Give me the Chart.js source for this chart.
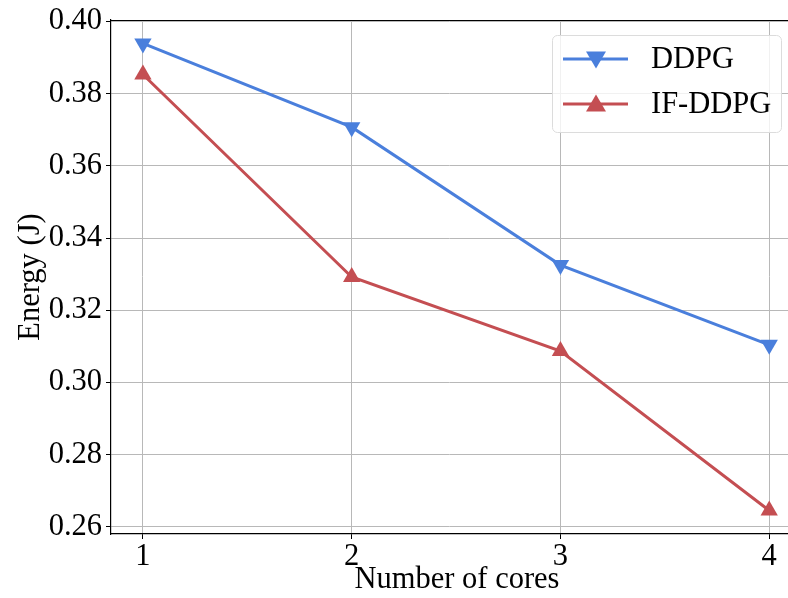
<!DOCTYPE html>
<html>
<head>
<meta charset="utf-8">
<script src="https://cdn.jsdelivr.net/npm/chart.js@4/dist/chart.umd.min.js"></script>
<style>
  html, body { margin: 0; padding: 0; background: #fff; }
  #wrap { width: 788px; height: 598px; }
</style>
</head>
<body>
<div id="wrap"><canvas id="c" width="788" height="598"></canvas></div>
<script>
// values
const cores = [1, 2, 3, 4];
const ddpg = [0.3939, 0.3707, 0.3325, 0.3104];
const ifDdpg = [0.3853, 0.3292, 0.3087, 0.2645];
const yTicks = [0.26, 0.28, 0.30, 0.32, 0.34, 0.36, 0.38, 0.40];

const FONT = 'Liberation Serif';
const FS = 30.5;
const BLUE = '#4a7fdc';
const RED = '#c44e52';
const GRID = '#b8b8b8';

Chart.defaults.font.family = FONT;
Chart.defaults.font.size = FS;
Chart.defaults.color = '#000';

// axis titles, top spine and legend drawn by hand, matplotlib style
const extras = {
  id: 'extras',
  afterDraw(chart) {
    const ctx = chart.ctx;
    const a = chart.chartArea;
    ctx.save();
    // top spine
    ctx.strokeStyle = '#000';
    ctx.lineWidth = 1.2;
    ctx.beginPath();
    ctx.moveTo(a.left, a.top + 0.5);
    ctx.lineTo(a.right, a.top + 0.5);
    ctx.stroke();

    // axis titles
    ctx.fillStyle = '#000';
    ctx.font = FS + 'px ' + FONT;
    ctx.textAlign = 'center';
    ctx.textBaseline = 'middle';
    ctx.fillText('Number of cores', 457, 580);
    ctx.save();
    ctx.translate(31, 277);
    ctx.rotate(-Math.PI / 2);
    ctx.fillText('Energy (J)', 0, 0);
    ctx.restore();

    // legend
    const bx = 552, by = 35, bw = 229, bh = 97;
    ctx.fillStyle = 'rgba(255,255,255,0.8)';
    ctx.strokeStyle = '#dcdcdc';
    ctx.lineWidth = 1;
    ctx.beginPath();
    ctx.roundRect(bx + 0.5, by + 0.5, bw, bh, 5);
    ctx.fill();
    ctx.stroke();

    chart.data.datasets.forEach((ds, i) => {
      const y = 59 + i * 45;
      ctx.strokeStyle = ds.borderColor;
      ctx.lineWidth = 3;
      ctx.beginPath();
      ctx.moveTo(563, y);
      ctx.lineTo(628, y);
      ctx.stroke();
      ctx.fillStyle = ds.borderColor;
      ctx.beginPath();
      const s = 10;
      if (ds.pointRotation === 180) {
        ctx.moveTo(596 - s, y - s * 0.75);
        ctx.lineTo(596 + s, y - s * 0.75);
        ctx.lineTo(596, y + s * 0.95);
      } else {
        ctx.moveTo(596 - s, y + s * 0.75);
        ctx.lineTo(596 + s, y + s * 0.75);
        ctx.lineTo(596, y - s * 0.95);
      }
      ctx.closePath();
      ctx.fill();
      ctx.fillStyle = '#000';
      ctx.font = FS + 'px ' + FONT;
      ctx.textAlign = 'left';
      ctx.textBaseline = 'middle';
      ctx.fillText(ds.label, 651, y + 1);
    });
    ctx.restore();
  }
};

new Chart(document.getElementById('c'), {
  type: 'line',
  data: {
    datasets: [
      {
        label: 'DDPG',
        data: cores.map((x, i) => ({ x, y: ddpg[i] })),
        borderColor: BLUE,
        backgroundColor: BLUE,
        borderWidth: 3,
        pointStyle: 'triangle',
        pointRotation: 180,
        pointRadius: 10,
        pointBorderWidth: 0,
        tension: 0,
        clip: false
      },
      {
        label: 'IF-DDPG',
        data: cores.map((x, i) => ({ x, y: ifDdpg[i] })),
        borderColor: RED,
        backgroundColor: RED,
        borderWidth: 3,
        pointStyle: 'triangle',
        pointRotation: 0,
        pointRadius: 10,
        pointBorderWidth: 0,
        tension: 0,
        clip: false
      }
    ]
  },
  options: {
    responsive: false,
    animation: false,
    events: [],
    layout: { autoPadding: false, padding: { top: 20, right: 0, left: 0, bottom: 0 } },
    plugins: { legend: { display: false }, tooltip: { enabled: false } },
    scales: {
      x: {
        type: 'linear',
        min: 0.847,
        max: 4.09,
        afterBuildTicks: s => { s.ticks = cores.map(v => ({ value: v })); },
        afterFit: s => { s.height = 64; s.paddingLeft = 0; s.paddingRight = 0; },
        ticks: {
          color: '#000',
          font: { family: FONT, size: FS },
          padding: 0,
          maxRotation: 0,
          callback: v => String(v)
        },
        grid: { color: GRID, lineWidth: 1, tickColor: '#000', tickLength: 5 },
        border: { display: true, color: '#000', width: 1.2 }
      },
      y: {
        min: 0.258,
        max: 0.4004,
        afterBuildTicks: s => { s.ticks = yTicks.map(v => ({ value: v })); },
        afterFit: s => { s.width = 111; s.paddingTop = 0; s.paddingBottom = 0; },
        ticks: {
          color: '#000',
          font: { family: FONT, size: FS },
          padding: 4,
          callback: v => v.toFixed(2)
        },
        grid: { color: GRID, lineWidth: 1, tickColor: '#000', tickLength: 5 },
        border: { display: true, color: '#000', width: 1.2 }
      }
    }
  },
  plugins: [extras]
});
</script>
</body>
</html>
